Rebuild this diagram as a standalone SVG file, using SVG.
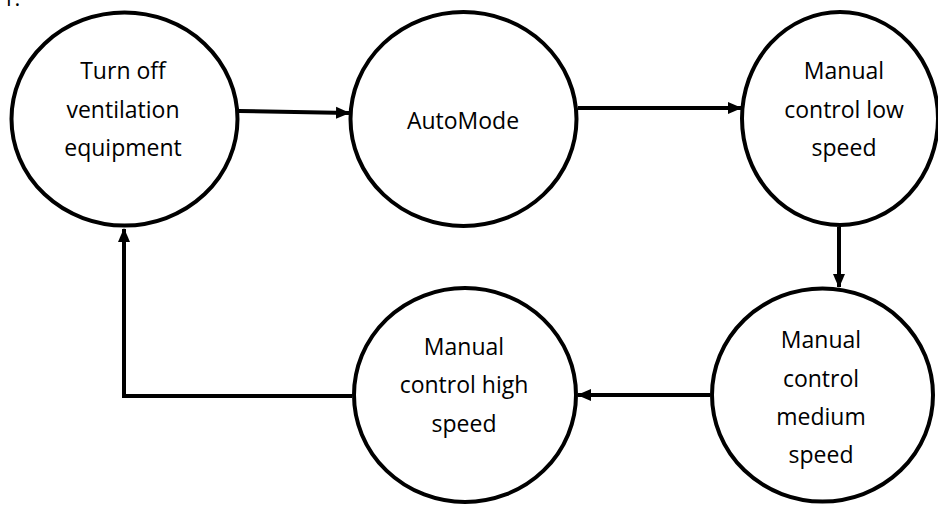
<svg xmlns="http://www.w3.org/2000/svg" width="938" height="505" viewBox="0 0 938 505">
<style>
.node ellipse{fill:#fff;stroke:#000;stroke-width:4}
.node text,.lbl{font-family:"Open Sans","Liberation Sans",sans-serif;font-size:23px;fill:#000;text-anchor:middle}
.edge{fill:none;stroke:#000;stroke-width:4;marker-end:url(#ah)}
</style>
<defs>
<marker id="ah" markerUnits="userSpaceOnUse" markerWidth="14" markerHeight="14" viewBox="0 0 14 14" refX="13" refY="7" orient="auto">
<path d="M0,1 L14,7 L0,13 Z" fill="#000"/>
</marker>
</defs>
<rect width="938" height="505" fill="#fff"/>
<text x="2" y="6" style="font-family:'Open Sans','Liberation Sans',sans-serif;font-size:22px">1.</text>
<g id="connectors">
<path class="edge" d="M239,111 L349,113"/>
<path class="edge" d="M578,108 L741,108"/>
<path class="edge" d="M839,227 L839,287"/>
<path class="edge" d="M710,395 L578,395"/>
<path class="edge" d="M352,396 L124,396 L124,229"/>
</g>
<g id="n1" class="node">
<ellipse cx="124.5" cy="119" rx="113" ry="106.5"/>
<text x="123" y="79">Turn off</text>
<text x="123" y="118">ventilation</text>
<text x="123" y="156">equipment</text>
</g>
<g id="n2" class="node">
<ellipse cx="463.5" cy="119" rx="113" ry="107"/>
<text x="463" y="129">AutoMode</text>
</g>
<g id="n3" class="node">
<ellipse cx="840" cy="118.5" rx="98" ry="106.5"/>
<text x="844" y="79">Manual</text>
<text x="844" y="118">control low</text>
<text x="844" y="156">speed</text>
</g>
<g id="n4" class="node">
<ellipse cx="465" cy="395" rx="111" ry="107"/>
<text x="464" y="355">Manual</text>
<text x="464" y="393">control high</text>
<text x="464" y="432">speed</text>
</g>
<g id="n5" class="node">
<ellipse cx="822.5" cy="395" rx="110.5" ry="106.5"/>
<text x="821" y="348">Manual</text>
<text x="821" y="387">control</text>
<text x="821" y="425">medium</text>
<text x="821" y="463">speed</text>
</g>
</svg>
